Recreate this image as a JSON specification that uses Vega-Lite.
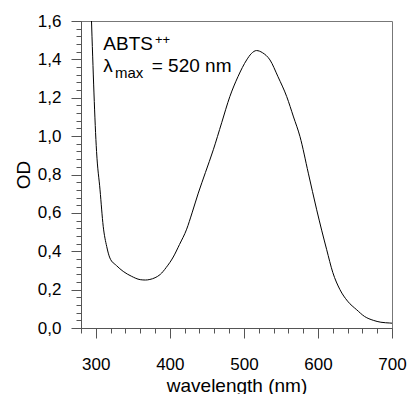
{
  "$schema": "https://vega.github.io/schema/vega-lite/v6.json",
  "autosize": {"type": "none"},
  "padding": {"left": 81, "top": 21, "right": 17, "bottom": 66},
  "width": 311,
  "height": 307,
  "background": "white",
  "config": {
    "view": {"stroke": "#777", "strokeWidth": 1},
    "font": "Liberation Sans",
    "axis": {"grid": false, "domainColor": "#555", "tickColor": "#555", "labelColor": "#000", "titleColor": "#000", "labelFont": "Liberation Sans", "titleFont": "Liberation Sans", "titleFontWeight": "normal", "labelFontSize": 17, "titleFontSize": 19}
  },
  "datasets": {
    "spectrum": [
      {"wl": 294, "od": 1.62},
      {"wl": 301, "od": 0.92},
      {"wl": 305.7, "od": 0.72},
      {"wl": 310, "od": 0.53},
      {"wl": 314.7, "od": 0.425},
      {"wl": 319, "od": 0.365},
      {"wl": 328, "od": 0.325},
      {"wl": 337, "od": 0.295},
      {"wl": 348, "od": 0.27},
      {"wl": 360, "od": 0.252},
      {"wl": 367, "od": 0.25},
      {"wl": 373, "od": 0.253},
      {"wl": 380, "od": 0.262},
      {"wl": 387, "od": 0.279},
      {"wl": 395, "od": 0.315},
      {"wl": 404.6, "od": 0.37},
      {"wl": 413, "od": 0.435},
      {"wl": 422.7, "od": 0.515},
      {"wl": 430, "od": 0.6},
      {"wl": 438.4, "od": 0.703},
      {"wl": 448, "od": 0.81},
      {"wl": 458.7, "od": 0.929},
      {"wl": 470, "od": 1.07},
      {"wl": 481, "od": 1.206},
      {"wl": 492, "od": 1.31},
      {"wl": 503.7, "od": 1.397},
      {"wl": 510, "od": 1.43},
      {"wl": 517, "od": 1.446},
      {"wl": 525, "od": 1.435},
      {"wl": 535.2, "od": 1.397},
      {"wl": 546, "od": 1.31},
      {"wl": 557.8, "od": 1.206},
      {"wl": 567, "od": 1.1},
      {"wl": 575.7, "od": 0.998},
      {"wl": 587, "od": 0.807},
      {"wl": 598.3, "od": 0.616},
      {"wl": 605, "od": 0.51},
      {"wl": 611.8, "od": 0.408},
      {"wl": 620, "od": 0.29},
      {"wl": 629.7, "od": 0.2},
      {"wl": 640, "od": 0.14},
      {"wl": 652.3, "od": 0.095},
      {"wl": 663, "od": 0.06},
      {"wl": 674.7, "od": 0.04},
      {"wl": 685, "od": 0.03},
      {"wl": 697, "od": 0.026},
      {"wl": 700, "od": 0.025}
    ]
  },
  "resolve": {"axis": {"x": "independent", "y": "independent"}},
  "layer": [
    {
      "data": {"name": "spectrum"},
      "mark": {"type": "line", "color": "#000", "strokeWidth": 1, "interpolate": "monotone", "clip": true},
      "encoding": {
        "x": {
          "field": "wl", "type": "quantitative",
          "scale": {"domain": [280, 700], "nice": false, "zero": false},
          "axis": {
            "orient": "bottom",
            "title": "wavelength (nm)",
            "values": [300, 400, 500, 600, 700],
            "tickSize": 10,
            "labelPadding": 18,
            "titlePadding": 4,
            "labelFlush": false,
            "labelOverlap": false
          }
        },
        "y": {
          "field": "od", "type": "quantitative",
          "scale": {"domain": [0, 1.6], "nice": false},
          "axis": {
            "orient": "left",
            "title": "OD",
            "values": [0, 0.2, 0.4, 0.6, 0.8, 1.0, 1.2, 1.4, 1.6],
            "labelExpr": "replace(format(datum.value, '.1f'), '.', ',')",
            "tickSize": 10,
            "labelPadding": 10,
            "titlePadding": 4,
            "labelFlush": false,
            "labelOverlap": false
          }
        }
      }
    },
    {
      "data": {"values": [{"wl": 310.1, "od": 1.4495, "t": "ABTS"}]},
      "mark": {"type": "text", "align": "left", "baseline": "alphabetic", "fontSize": 19, "font": "Liberation Sans", "color": "#000"},
      "encoding": {
        "x": {"field": "wl", "type": "quantitative", "axis": {"orient": "bottom", "title": null, "labels": false, "domain": false, "tickSize": 5, "values": [280, 300, 320, 340, 360, 380, 400, 420, 440, 460, 480, 500, 520, 540, 560, 580, 600, 620, 640, 660, 680, 700]}},
        "y": {"field": "od", "type": "quantitative", "axis": {"orient": "left", "title": null, "labels": false, "domain": false, "tickSize": 5, "values": [0, 0.04, 0.08, 0.12, 0.16, 0.2, 0.24, 0.28, 0.32, 0.36, 0.4, 0.44, 0.48, 0.52, 0.56, 0.6, 0.64, 0.68, 0.72, 0.76, 0.8, 0.84, 0.88, 0.92, 0.96, 1.0, 1.04, 1.08, 1.12, 1.16, 1.2, 1.24, 1.28, 1.32, 1.36, 1.4, 1.44, 1.48, 1.52, 1.56, 1.6]}},
        "text": {"field": "t"}
      }
    },
    {
      "data": {"values": [{"wl": 379.9, "od": 1.482, "t": "++"}]},
      "mark": {"type": "text", "align": "left", "baseline": "alphabetic", "fontSize": 13, "font": "Liberation Sans", "color": "#000"},
      "encoding": {"x": {"field": "wl", "type": "quantitative", "axis": null}, "y": {"field": "od", "type": "quantitative", "axis": null}, "text": {"field": "t"}}
    },
    {
      "data": {"values": [{"wl": 310.1, "od": 1.3365, "t": "λ"}]},
      "mark": {"type": "text", "align": "left", "baseline": "alphabetic", "fontSize": 19, "font": "Liberation Sans", "color": "#000"},
      "encoding": {"x": {"field": "wl", "type": "quantitative", "axis": null}, "y": {"field": "od", "type": "quantitative", "axis": null}, "text": {"field": "t"}}
    },
    {
      "data": {"values": [{"wl": 325.9, "od": 1.302, "t": "max"}]},
      "mark": {"type": "text", "align": "left", "baseline": "alphabetic", "fontSize": 15, "font": "Liberation Sans", "color": "#000"},
      "encoding": {"x": {"field": "wl", "type": "quantitative", "axis": null}, "y": {"field": "od", "type": "quantitative", "axis": null}, "text": {"field": "t"}}
    },
    {
      "data": {"values": [{"wl": 375.5, "od": 1.3365, "t": "= 520 nm"}]},
      "mark": {"type": "text", "align": "left", "baseline": "alphabetic", "fontSize": 19, "font": "Liberation Sans", "color": "#000"},
      "encoding": {"x": {"field": "wl", "type": "quantitative", "axis": null}, "y": {"field": "od", "type": "quantitative", "axis": null}, "text": {"field": "t"}}
    }
  ]
}
